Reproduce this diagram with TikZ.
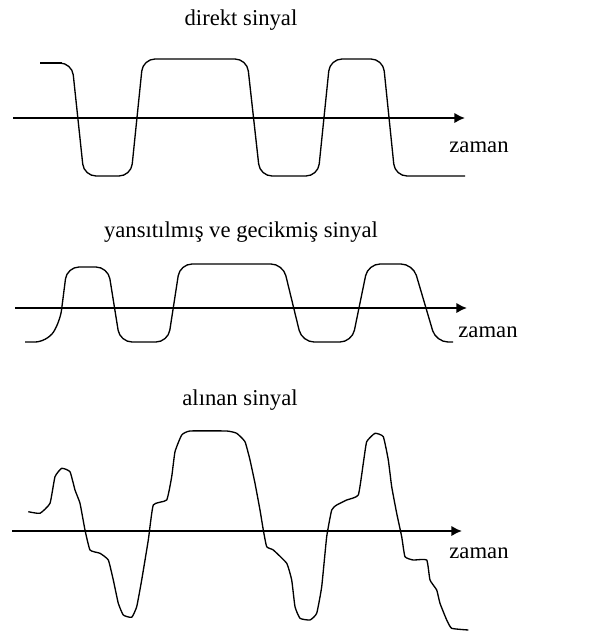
\documentclass[tikz,border=0pt]{standalone}
\usepackage{fontspec}
\setmainfont{Liberation Serif}
\usetikzlibrary{arrows.meta}
\tikzset{>={Latex[length=8pt,width=8pt]},
  every node/.style={font=\fontsize{17}{20}\selectfont,inner sep=0pt},
  axis/.style={->,line width=2.2pt},
  signal/.style={line width=1pt,rounded corners=9pt,line join=round},
  rough/.style={line width=1pt,line join=round}}
\begin{document}
\begin{tikzpicture}[x=0.75pt,y=-0.75pt]
\path[use as bounding box] (0,0) rectangle (611,637);
% direkt sinyal
\node (t1) at (241,20) {direkt sinyal};
\coordinate (a1s) at (13,118);\coordinate (a1e) at (465,118);
\draw[axis] (a1s)--(a1e);
\node (z1) at (479,147) {zaman};
\draw[line width=2pt] (40,63)--(62,63);
\draw[signal] (40,63)--(72,63)--(84,176)--(131,176)--(143,59)--(247,59)--(260,176)
  --(318,176)--(330,59)--(383,59)--(395,176)--(465,176);
% yansitilmis ve gecikmis sinyal
\node (t2) at (241,232) {yansıtılmış ve gecikmiş sinyal};
\coordinate (a2s) at (15,308);\coordinate (a2e) at (467,308);
\draw[axis] (a2s)--(a2e);
\node (z2) at (488,332) {zaman};
\draw[signal] (25,342)--(47,342)--(60,322)--(67,267)--(108,267)--(120,342)--(168,342)
  --(180,264)--(283,264)--(302,342)--(352,342)--(368,264)--(413,264)--(436,342)--(453,342);
% alinan sinyal
\node (t3) at (240,400) {alınan sinyal};
\coordinate (a3s) at (12,531);\coordinate (a3e) at (462,531);
\draw[axis] (a3s)--(a3e);
\node (z3) at (479,553) {zaman};
\draw[rough] plot[smooth,tension=0.25] coordinates {(28.3,511.7) (40,513.3) (50,503.3)
  (55,476.7) (61.7,468.3) (70,471.7) (75,490) (80,503.3) (85,530) (90,550) (100,553.3)
  (108.3,560) (113.3,580) (118.3,603.3) (123.3,615) (131.7,617.3) (136.7,606.7)
  (141.7,580) (148.3,540) (153.3,505) (166.7,500) (171.7,476.7) (175,451.7) (181.7,435)
  (190,431) (226.7,431) (236.7,433.3) (245,441.7) (250,460) (255,483.3) (260,510)
  (263.3,530) (266.7,546.7) (273.3,550) (286.7,563.3) (291.7,580) (295,606.7) (300,618.3)
  (310,620) (316.7,613.3) (321.7,586.7) (326.7,536.7) (331.7,510) (336.7,505) (346.7,500)
  (358.3,495) (363.3,463.3) (366.7,441.7) (375,433.3) (383.3,436.7) (388.3,460)
  (391.7,486.7) (396.7,513.3) (401.7,536.7) (405,556.7) (413.3,560) (426.7,560) (430,580)
  (436.7,590) (440,603.3) (446.7,620) (451.7,628.3) (468.3,630)};
\end{tikzpicture}
\end{document}
